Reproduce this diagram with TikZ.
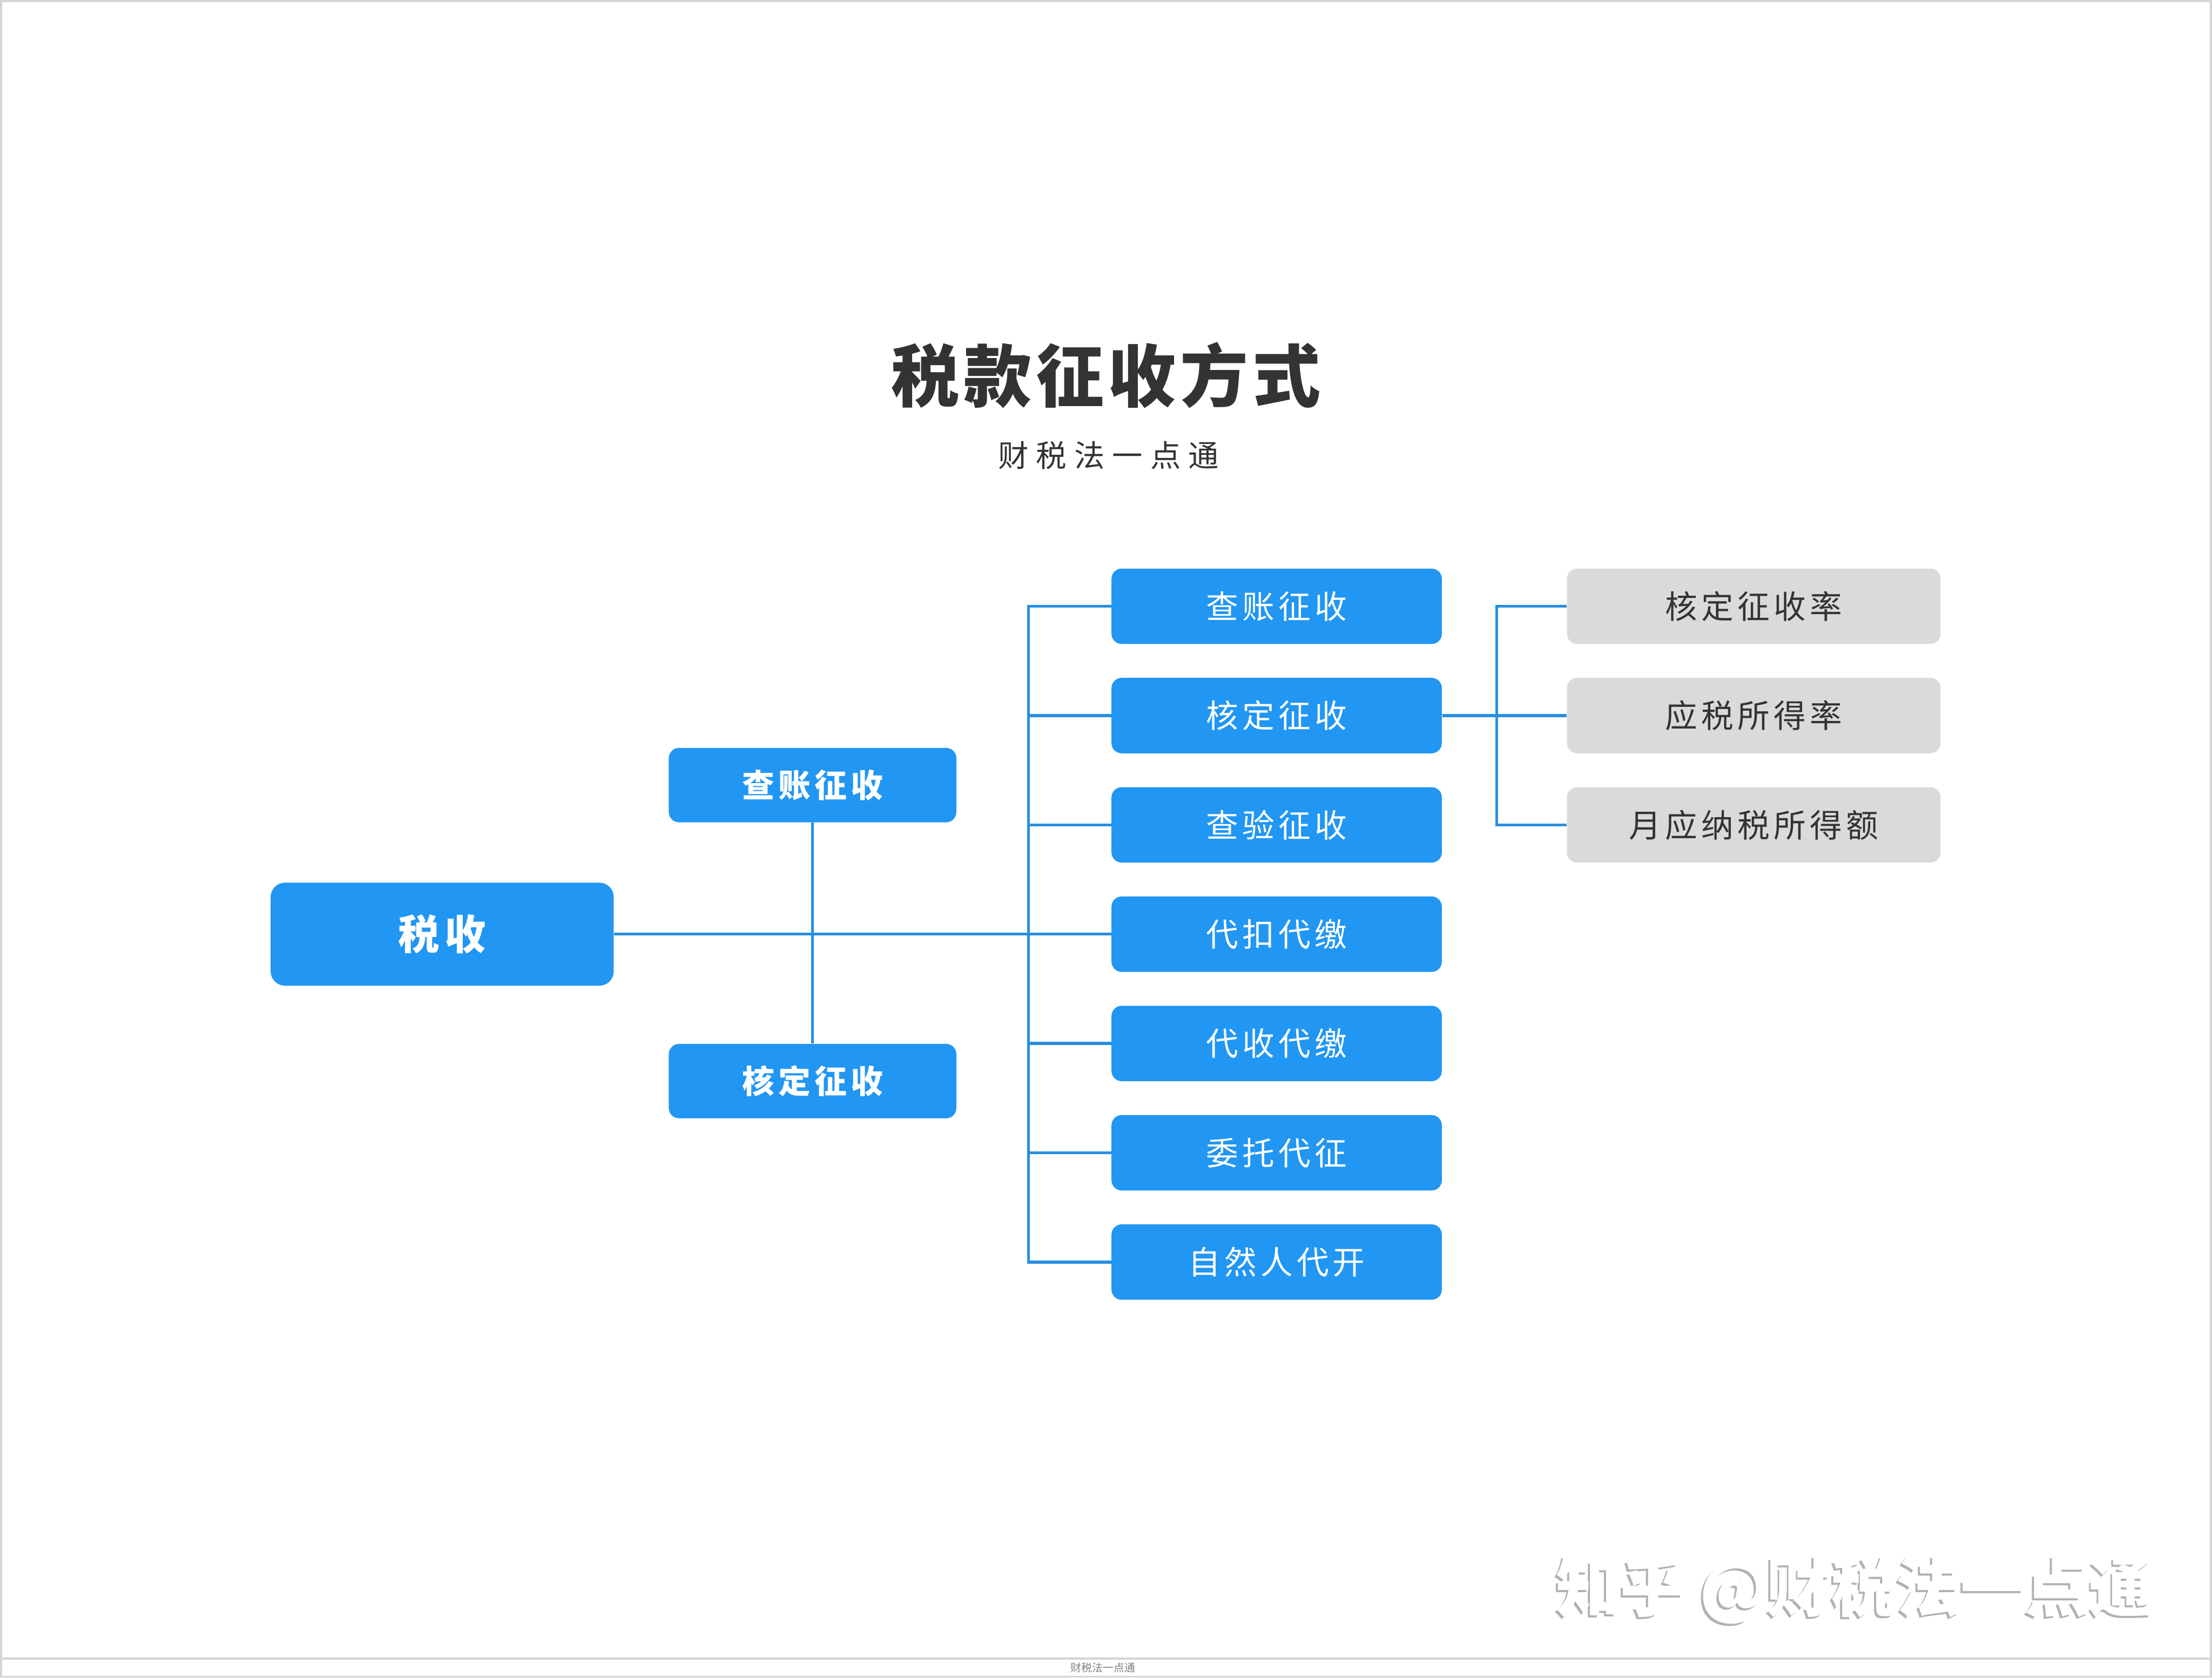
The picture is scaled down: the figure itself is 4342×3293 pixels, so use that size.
\documentclass[tikz,border=0pt]{standalone}
\usepackage{fontspec}
\setmainfont{Noto Sans CJK SC}
\newfontfamily\wide[LetterSpace=12]{Noto Sans CJK SC}
\newfontfamily\titlef[LetterSpace=6]{Noto Sans CJK SC}
\newfontfamily\subt[LetterSpace=25]{Noto Sans CJK SC}
\usetikzlibrary{positioning}
\definecolor{taxblue}{RGB}{33,150,243}
\definecolor{linkblue}{RGB}{40,142,224}
\definecolor{subgray}{RGB}{218,218,218}
\definecolor{ink}{RGB}{51,51,51}
\definecolor{framegray}{RGB}{212,212,212}
\definecolor{shade}{RGB}{178,178,178}

\begin{document}
\begin{tikzpicture}[
  x=0.01cm, y=-0.01cm, node distance=6.5mm,
  b/.style={fill=taxblue, text=white, rounded corners=2mm, inner sep=0pt,
            minimum width=6.48cm, minimum height=1.48cm,
            font=\wide\fontsize{18}{18}\selectfont},
  m/.style={b, minimum width=5.64cm, minimum height=1.46cm,
            font=\wide\bfseries\fontsize{18}{18}\selectfont},
  g/.style={b, fill=subgray, text=ink, minimum width=7.33cm},
  l/.style={draw=linkblue, line width=1.6pt}]
\useasboundingbox (0,0) rectangle (4342,3293);
\draw[framegray, line width=0.04cm] (2,2) rectangle (4340,3291);
\draw[framegray, line width=0.04cm] (0,3255) -- (4342,3255);
\node[text=ink, font=\titlef\bfseries\fontsize{38}{38}\selectfont] (title) at (2171,737) {税款征收方式};
\node[text=ink, font=\subt\fontsize{17}{17}\selectfont] (subtitle) at (2176,894) {财税法一点通};
\node[b] (r1) at (2506,1190) {查账征收};
\node[b, below=of r1] (r2) {核定征收};
\node[b, below=of r2] (r3) {查验征收};
\node[b, below=of r3] (r4) {代扣代缴};
\node[b, below=of r4] (r5) {代收代缴};
\node[b, below=of r5] (r6) {委托代征};
\node[b, below=of r6] (r7) {自然人代开};
\node[b, minimum width=6.73cm, minimum height=2.02cm, rounded corners=2.8mm,
      font=\wide\bfseries\fontsize{23}{23}\selectfont] (tax) at (r4 -| 868,0) {税收};
\node[m] (mzc) at (1595,1541) {查账征收};
\node[m] (mhd) at (1595,2122) {核定征收};
\node[g, right=2.44cm of r1] (g1) {核定征收率};
\node[g, right=2.44cm of r2] (g2) {应税所得率};
\node[g, right=2.44cm of r3] (g3) {月应纳税所得额};
\coordinate (bus) at (2019,0); \coordinate (gbus) at (2938,0);
\draw[l] (tax) -- (r4); \draw[l] (mzc) -- (mhd);
\draw[l] (r1.west) -- (r1.west -| bus) -- (r7.west -| bus) -- (r7.west);
\foreach \i in {2,3,5,6} \draw[l] (r\i.west) -- (r\i.west -| bus);
\draw[l] (g1.west) -- (g1.west -| gbus) -- (g3.west -| gbus) -- (g3.west);
\draw[l] (r2) -- (g2);
\node[text=shade, font=\bfseries\fontsize{36}{36}\selectfont] (wms) at (3637,3125) {知乎 @财税法一点通};
\node[text=white, font=\bfseries\fontsize{36}{36}\selectfont] (wm) at (3641,3121) {知乎 @财税法一点通};
\node[text=gray, font=\fontsize{6}{6}\selectfont] (foot) at (2165,3273) {财税法一点通};
\end{tikzpicture}
\end{document}
